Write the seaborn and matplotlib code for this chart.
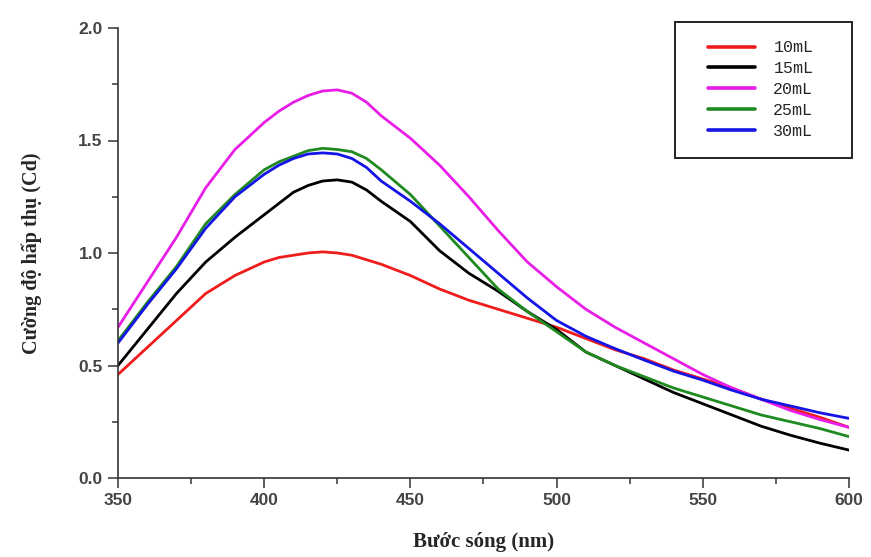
import numpy as np
import pandas as pd
import matplotlib
matplotlib.use("Agg")
import matplotlib.pyplot as plt
import seaborn as sns
from matplotlib.patches import Rectangle
from matplotlib.ticker import MultipleLocator

# wavelength grid (nm) and absorbance
wavelength = [350, 360, 370, 380, 390, 400, 405, 410, 415, 420, 425, 430, 435, 440, 450,
              460, 470, 480, 490, 500, 510, 520, 530, 540, 550, 560, 570, 580, 590, 600]

abs_10 = [0.46, 0.58, 0.70, 0.82, 0.90, 0.96, 0.98, 0.99, 1.00, 1.005, 1.00, 0.99, 0.97, 0.95, 0.90,
          0.84, 0.79, 0.75, 0.71, 0.67, 0.62, 0.57, 0.53, 0.48, 0.44, 0.40, 0.35, 0.31, 0.27, 0.225]
abs_15 = [0.50, 0.66, 0.82, 0.96, 1.07, 1.17, 1.22, 1.27, 1.30, 1.32, 1.325, 1.315, 1.28, 1.23, 1.14,
          1.01, 0.91, 0.83, 0.74, 0.66, 0.56, 0.50, 0.44, 0.38, 0.33, 0.28, 0.23, 0.19, 0.155, 0.124]
abs_20 = [0.67, 0.87, 1.07, 1.29, 1.46, 1.58, 1.63, 1.67, 1.70, 1.72, 1.725, 1.71, 1.67, 1.61, 1.51,
          1.39, 1.25, 1.10, 0.96, 0.85, 0.75, 0.67, 0.60, 0.53, 0.46, 0.40, 0.35, 0.30, 0.26, 0.225]
abs_25 = [0.61, 0.78, 0.94, 1.13, 1.26, 1.37, 1.405, 1.43, 1.455, 1.465, 1.46, 1.45, 1.42, 1.37, 1.26,
          1.12, 0.98, 0.84, 0.74, 0.65, 0.56, 0.50, 0.45, 0.40, 0.36, 0.32, 0.28, 0.25, 0.22, 0.184]
abs_30 = [0.60, 0.77, 0.93, 1.11, 1.25, 1.35, 1.39, 1.42, 1.44, 1.445, 1.44, 1.42, 1.38, 1.32, 1.23,
          1.13, 1.02, 0.91, 0.80, 0.70, 0.63, 0.575, 0.524, 0.475, 0.435, 0.39, 0.35, 0.32, 0.29, 0.265]

labels = ["10mL", "15mL", "20mL", "25mL", "30mL"]
colors = ["#f01c1c", "#000000", "#e81ee8", "#1f8a1f", "#1414e6"]

df = pd.DataFrame({
    "wl": wavelength * 5,
    "a": abs_10 + abs_15 + abs_20 + abs_25 + abs_30,
    "vol": sum([[l] * len(wavelength) for l in labels], []),
})

sns.set_style("ticks")
fig = plt.figure(figsize=(8.71, 5.57), dpi=100)
ax = fig.add_axes([118 / 871, 79 / 557, 731 / 871, 450 / 557])

sns.lineplot(data=df, x="wl", y="a", hue="vol", palette=dict(zip(labels, colors)),
             linewidth=2.0, ax=ax, legend=False)

ax.set_xlim(350, 600)
ax.set_ylim(0, 2.0)
ax.xaxis.set_major_locator(MultipleLocator(50))
ax.xaxis.set_minor_locator(MultipleLocator(25))
ax.yaxis.set_major_locator(MultipleLocator(0.5))
ax.yaxis.set_minor_locator(MultipleLocator(0.25))
ax.set_xticks([350, 400, 450, 500, 550, 600])
ax.set_xticklabels(["350", "400", "450", "500", "550", "600"])
ax.set_yticks([0, 0.5, 1.0, 1.5, 2.0])
ax.set_yticklabels(["0.0", "0.5", "1.0", "1.5", "2.0"])

for s in ["top", "right"]:
    ax.spines[s].set_visible(False)
for s in ["left", "bottom"]:
    ax.spines[s].set_color("#333333")
    ax.spines[s].set_linewidth(1.2)

ax.tick_params(which="major", direction="out", length=7, width=1.1, color="#333333",
               labelsize=12.5, labelcolor="#444444", pad=4)
ax.tick_params(which="minor", direction="out", length=4, width=1.1, color="#333333")
for t in ax.get_xticklabels() + ax.get_yticklabels():
    t.set_fontfamily("Liberation Sans")
    t.set_fontweight("bold")

ax.set_xlabel("Bước sóng (nm)", family="Liberation Serif", fontweight="bold",
              fontsize=15, labelpad=17)
ax.set_ylabel("Cường độ hấp thụ (Cd)", family="Liberation Serif", fontweight="bold",
              fontsize=14.5, labelpad=26)

handles = [plt.Line2D([], [], color=c, linewidth=2.6) for c in colors]
leg = ax.legend(handles, labels, loc="upper left", frameon=False,
                bbox_to_anchor=(700 / 871, (557 - 32) / 557), bbox_transform=fig.transFigure,
                prop={"family": "Liberation Mono", "size": 12},
                handlelength=2.8, handletextpad=1.1, labelspacing=0.35, borderpad=0)
fig.patches.append(Rectangle((675 / 871, (557 - 158) / 557), 177 / 871, 136 / 557,
                             transform=fig.transFigure, fill=False,
                             edgecolor="#222222", linewidth=1.4))

fig.savefig("out.png", dpi=100)
